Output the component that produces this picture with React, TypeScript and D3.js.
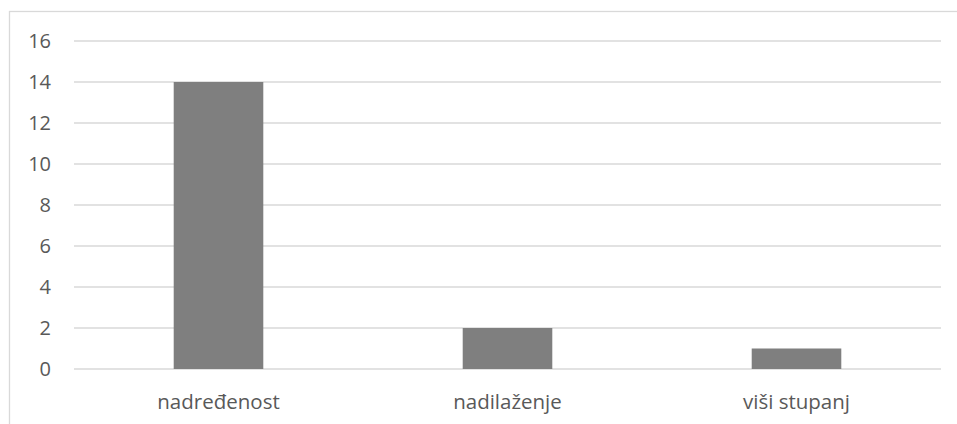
import React, { useEffect, useRef } from 'react';
import * as d3 from 'd3';

// chart data
const categories: string[] = ['nadređenost', 'nadilaženje', 'viši stupanj'];
const values: number[] = [14, 2, 1];
const yTicks: number[] = [0, 2, 4, 6, 8, 10, 12, 14, 16];

const App: React.FC = () => {
  const svgRef = useRef<SVGSVGElement>(null);

  useEffect(() => {
    if (!svgRef.current) return;
    const svg = d3.select(svgRef.current);
    svg.selectAll('*').remove();

    const width = 957;
    const height = 424;
    const font = '"Open Sans", Calibri, sans-serif';

    // chart area border (right/bottom run off the picture)
    svg.append('rect')
      .attr('x', 9.5)
      .attr('y', 11.5)
      .attr('width', width)
      .attr('height', height)
      .style('fill', '#fff')
      .style('stroke', '#d9d9d9')
      .style('stroke-width', 1.3);

    const x = d3.scaleBand<string>()
      .domain(categories)
      .range([74, 941])
      .paddingInner(0.69)
      .paddingOuter(0.345);

    const y = d3.scaleLinear()
      .domain([0, 16])
      .range([369, 41]);

    // gridlines
    svg.append('g')
      .selectAll('line')
      .data(yTicks)
      .enter().append('line')
      .attr('x1', 74)
      .attr('x2', 941)
      .attr('y1', d => y(d))
      .attr('y2', d => y(d))
      .style('stroke', '#d9d9d9')
      .style('stroke-width', 1.5);

    // y tick labels
    svg.append('g')
      .selectAll('text')
      .data(yTicks)
      .enter().append('text')
      .attr('x', 51)
      .attr('y', d => y(d))
      .attr('dy', '0.36em')
      .attr('text-anchor', 'end')
      .style('font-family', font)
      .style('font-size', '20px')
      .style('fill', '#595959')
      .text(d => d);

    // bars
    svg.append('g')
      .selectAll('rect')
      .data(values)
      .enter().append('rect')
      .attr('x', (_, i) => x(categories[i]) as number)
      .attr('y', d => y(d))
      .attr('width', x.bandwidth())
      .attr('height', d => y(0) - y(d))
      .style('fill', '#7f7f7f');

    // category labels
    svg.append('g')
      .selectAll('text')
      .data(categories)
      .enter().append('text')
      .attr('x', d => (x(d) as number) + x.bandwidth() / 2)
      .attr('y', 409)
      .attr('text-anchor', 'middle')
      .style('font-family', font)
      .style('font-size', '20.5px')
      .style('fill', '#595959')
      .text(d => d);
  }, []);

  return (
    <svg
      ref={svgRef}
      width={957}
      height={424}
      style={{ position: 'absolute', left: 0, top: 0, display: 'block' }}
    />
  );
};

export default App;
